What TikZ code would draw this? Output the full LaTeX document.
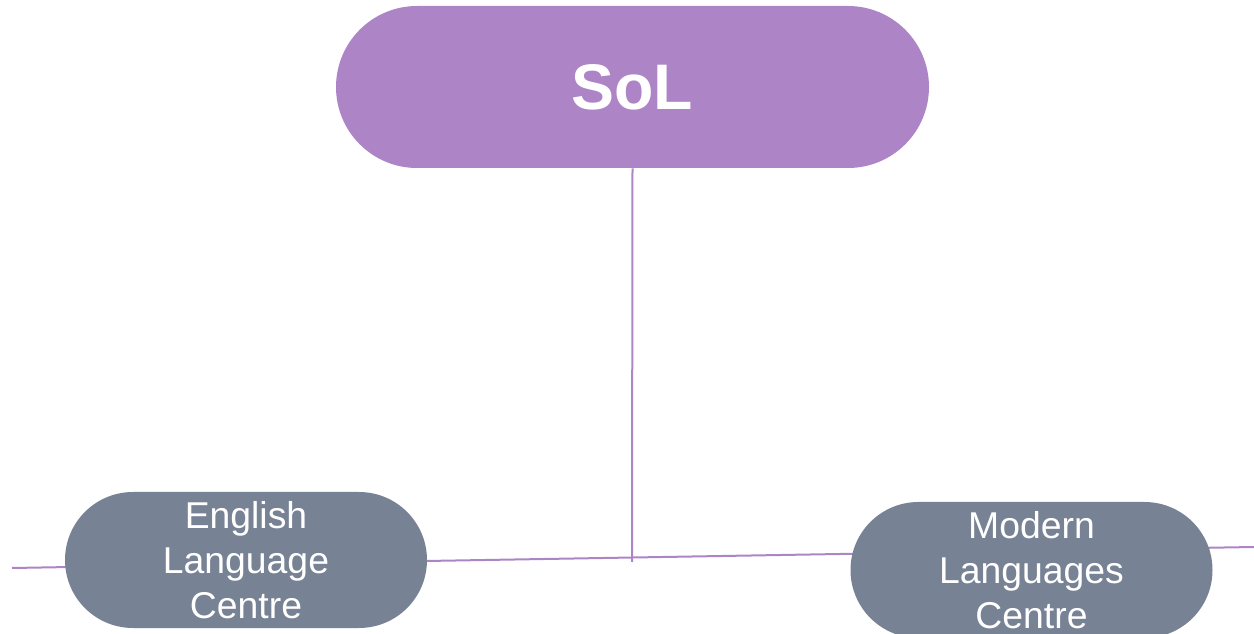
\documentclass[tikz,border=0pt]{standalone}
\usepackage{fontspec}
\setmainfont{Liberation Sans}
\usetikzlibrary{shapes.misc,backgrounds}
\definecolor{solpurple}{HTML}{AD84C6}
\definecolor{centregrey}{HTML}{778294}
\begin{document}
\begin{tikzpicture}[x=0.75pt,y=-0.75pt,line cap=round,line join=round,
		pill/.style={rounded rectangle,inner sep=0pt,text=white,align=center},
		unitpill/.style={pill,fill=centregrey,minimum width=271.5pt,minimum height=102pt,font=\fontsize{28}{33.75}\selectfont},
		branch/.style={draw=solpurple,line width=1.5pt,line cap=butt}]
			\useasboundingbox (0,0) rectangle (1254,634);
			\node[pill,fill=solpurple,minimum width=444.75pt,minimum height=121.5pt,font=\fontsize{48.3}{58}\selectfont\bfseries] (sol) at (632.5,87) {SoL};
			\node[unitpill] (elc) at (246,560) {English\\Language\\Centre};
			\node[unitpill] (mlc) at (1031.5,570) {Modern\\Languages\\Centre};
			\coordinate (lineleft) at (12,568);
			\coordinate (lineright) at (1254,547);
			\coordinate (junction) at (632,562);
			\begin{scope}[on background layer]
				\draw[branch] (lineleft) -- (lineright);
				\draw[branch] (sol.south) -- (junction);
			\end{scope}
		\end{tikzpicture}
\end{document}
